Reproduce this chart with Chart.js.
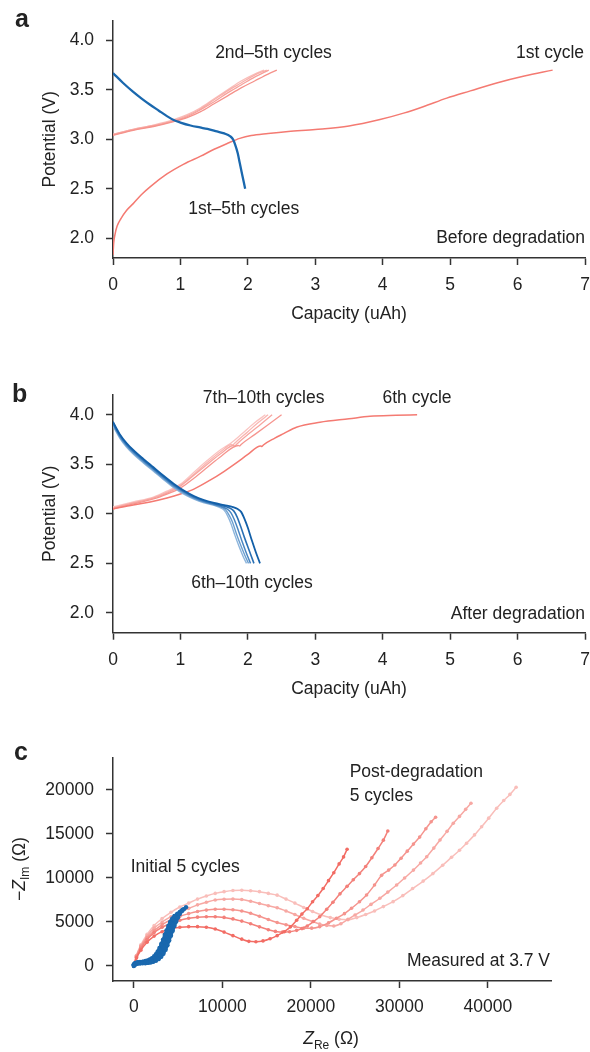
<!DOCTYPE html>
<html><head><meta charset="utf-8">
<script src="https://cdn.jsdelivr.net/npm/chart.js@4.4.1/dist/chart.umd.min.js"></script>
<style>
html,body{margin:0;padding:0;background:#fff;}
body{width:590px;height:1052px;position:relative;overflow:hidden;}
canvas{position:absolute;left:0;}
</style></head><body>
<canvas id="ca" width="590" height="330" style="top:0px"></canvas>
<canvas id="cb" width="590" height="375" style="top:330px"></canvas>
<canvas id="cc" width="590" height="347" style="top:705px"></canvas>
<script>
// ---------- tick values / labels ----------
const capacityTicks = [0, 1, 2, 3, 4, 5, 6, 7];
const capacityTickLabels = ['0', '1', '2', '3', '4', '5', '6', '7'];
const potentialTicks = [2.0, 2.5, 3.0, 3.5, 4.0];
const potentialTickLabels = ['2.0', '2.5', '3.0', '3.5', '4.0'];
const zReTicks = [0, 10000, 20000, 30000, 40000];
const zReTickLabels = ['0', '10000', '20000', '30000', '40000'];
const zImTicks = [0, 5000, 10000, 15000, 20000];
const zImTickLabels = ['0', '5000', '10000', '15000', '20000'];

// ---------- panel a: before degradation (capacity uAh, potential V) ----------
const aCharge1st = [[0,1.83],[0.01,1.95],[0.03,2.04],[0.06,2.12],[0.12,2.2],[0.2,2.28],[0.3,2.35],[0.42,2.44],[0.55,2.52],[0.8,2.65],[1.05,2.75],[1.3,2.83],[1.5,2.9],[1.7,2.96],[1.88,3.01],[2.05,3.04],[2.3,3.06],[2.6,3.08],[3.0,3.1],[3.5,3.135],[3.96,3.2],[4.31,3.265],[4.6,3.33],[4.95,3.417],[5.3,3.49],[5.69,3.57],[6.1,3.64],[6.52,3.70]];
const aCharge2nd = [[0,3.04],[0.3,3.09],[0.6,3.13],[0.9,3.18],[1.1,3.22],[1.3,3.28],[1.5,3.36],[1.7,3.44],[1.9,3.52],[2.1,3.59],[2.3,3.66],[2.43,3.70]];
const aCharge3rd = [[0,3.045],[0.3,3.095],[0.6,3.135],[0.9,3.185],[1.1,3.23],[1.3,3.3],[1.5,3.38],[1.7,3.47],[1.9,3.55],[2.1,3.63],[2.31,3.70]];
const aCharge4th = [[0,3.05],[0.3,3.1],[0.6,3.14],[0.9,3.19],[1.1,3.24],[1.3,3.31],[1.5,3.4],[1.7,3.49],[1.9,3.57],[2.1,3.65],[2.28,3.70]];
const aCharge5th = [[0,3.05],[0.3,3.1],[0.6,3.145],[0.9,3.2],[1.1,3.25],[1.3,3.32],[1.5,3.41],[1.7,3.5],[1.9,3.59],[2.1,3.66],[2.24,3.70]];
const aDischarge1to5 = [[0,3.67],[0.15,3.57],[0.3,3.48],[0.42,3.415],[0.55,3.35],[0.68,3.29],[0.8,3.235],[0.9,3.195],[1.0,3.17],[1.15,3.14],[1.29,3.12],[1.4,3.105],[1.54,3.08],[1.65,3.06],[1.74,3.03],[1.78,3.0],[1.81,2.95],[1.85,2.86],[1.88,2.76],[1.92,2.63],[1.96,2.50]];

// ---------- panel b: after degradation ----------
const bCharge6th = [[0,3.05],[0.3,3.09],[0.55,3.12],[0.8,3.16],[1.0,3.2],[1.2,3.25],[1.44,3.34],[1.65,3.43],[1.84,3.52],[2.0,3.6],[2.19,3.685],[2.21,3.68],[2.23,3.695],[2.4,3.765],[2.53,3.81],[2.72,3.875],[3.07,3.925],[3.5,3.96],[3.81,3.985],[4.2,3.995],[4.51,4.0]];
const bCharge7th = [[0,3.05],[0.3,3.1],[0.6,3.15],[0.8,3.2],[1.0,3.26],[1.2,3.36],[1.4,3.47],[1.6,3.58],[1.86,3.69],[1.88,3.685],[1.9,3.70],[2.1,3.8],[2.3,3.9],[2.5,4.0]];
const bCharge8th = [[0,3.06],[0.3,3.11],[0.6,3.16],[0.8,3.21],[1.0,3.28],[1.2,3.39],[1.4,3.5],[1.6,3.61],[1.79,3.69],[1.81,3.685],[1.83,3.7],[2.0,3.8],[2.2,3.91],[2.36,4.0]];
const bCharge9th = [[0,3.06],[0.3,3.11],[0.6,3.165],[0.8,3.22],[1.0,3.29],[1.2,3.4],[1.4,3.52],[1.6,3.63],[1.76,3.7],[1.78,3.695],[1.8,3.71],[2.0,3.83],[2.15,3.92],[2.3,4.0]];
const bCharge10th = [[0,3.07],[0.3,3.12],[0.6,3.17],[0.8,3.23],[1.0,3.3],[1.2,3.42],[1.4,3.54],[1.6,3.65],[1.74,3.71],[1.9,3.8],[2.1,3.92],[2.26,4.0]];
const bDischarge6th = [[0,3.93],[0.05,3.865],[0.1,3.805],[0.2,3.715],[0.3,3.645],[0.45,3.555],[0.6,3.47],[0.75,3.385],[0.9,3.305],[1.05,3.235],[1.2,3.18],[1.35,3.14],[1.5,3.11],[1.65,3.088],[1.78,3.068],[1.85,3.048],[1.9,3.02],[1.95,2.95],[2.0,2.86],[2.06,2.73],[2.12,2.61],[2.18,2.5]];
const bDischarge7th = [[0,3.92],[0.05,3.855],[0.1,3.795],[0.2,3.705],[0.3,3.635],[0.45,3.545],[0.6,3.46],[0.75,3.375],[0.9,3.295],[1.05,3.228],[1.2,3.173],[1.35,3.133],[1.5,3.103],[1.62,3.082],[1.72,3.062],[1.79,3.03],[1.84,2.97],[1.89,2.88],[1.95,2.76],[2.02,2.63],[2.09,2.5]];
const bDischarge8th = [[0,3.91],[0.05,3.845],[0.1,3.785],[0.2,3.695],[0.3,3.625],[0.45,3.535],[0.6,3.45],[0.75,3.365],[0.9,3.285],[1.05,3.22],[1.2,3.165],[1.35,3.125],[1.5,3.095],[1.6,3.075],[1.69,3.05],[1.75,3.01],[1.8,2.94],[1.86,2.83],[1.92,2.71],[1.98,2.6],[2.04,2.5]];
const bDischarge9th = [[0,3.9],[0.05,3.835],[0.1,3.775],[0.2,3.685],[0.3,3.615],[0.45,3.525],[0.6,3.44],[0.75,3.355],[0.9,3.275],[1.05,3.21],[1.2,3.157],[1.35,3.118],[1.5,3.09],[1.6,3.07],[1.67,3.04],[1.72,2.99],[1.77,2.92],[1.83,2.8],[1.89,2.69],[1.95,2.59],[2.01,2.5]];
const bDischarge10th = [[0,3.89],[0.05,3.825],[0.1,3.765],[0.2,3.675],[0.3,3.605],[0.45,3.515],[0.6,3.43],[0.75,3.345],[0.9,3.265],[1.05,3.2],[1.2,3.15],[1.35,3.112],[1.5,3.085],[1.58,3.065],[1.65,3.035],[1.7,2.98],[1.75,2.9],[1.81,2.78],[1.87,2.67],[1.93,2.57],[1.98,2.5]];

// ---------- panel c: Nyquist (Z_Re, -Z_Im) in ohm ----------
const cInitial1 = [[0,0],[150,150],[400,250],[700,290],[1000,300],[1300,320],[1600,350],[1900,400],[2200,480],[2500,600],[2800,780],[3100,1050],[3350,1400],[3600,1850],[3800,2350],[4000,2900],[4200,3450],[4400,4000],[4600,4550],[4800,5050],[5000,5500],[5200,5900],[5450,6250],[5650,6450],[5900,6670]];
const cInitial2 = [[0,50],[150,200],[400,300],[700,330],[1000,350],[1300,380],[1600,420],[1900,480],[2200,580],[2450,720],[2700,900],[2950,1180],[3200,1550],[3450,2000],[3650,2500],[3850,3050],[4050,3600],[4250,4150],[4450,4700],[4650,5150],[4850,5550],[5050,5900],[5300,6200],[5500,6400]];
const cInitial3 = [[0,100],[150,250],[400,340],[700,380],[1000,400],[1300,440],[1600,490],[1900,560],[2150,680],[2400,840],[2650,1050],[2900,1350],[3100,1700],[3300,2150],[3500,2650],[3700,3200],[3900,3750],[4100,4300],[4300,4800],[4500,5250],[4700,5650],[4950,5950],[5200,6150]];
const cInitial4 = [[0,150],[150,300],[400,380],[700,420],[1000,450],[1300,500],[1600,560],[1850,650],[2100,790],[2350,970],[2600,1200],[2800,1500],[3000,1900],[3200,2350],[3400,2850],[3600,3400],[3800,3950],[4000,4450],[4200,4900],[4400,5300],[4650,5650],[4900,5900]];
const cInitial5 = [[0,200],[150,350],[400,420],[700,470],[1000,500],[1300,560],[1550,640],[1800,750],[2050,900],[2300,1100],[2500,1350],[2700,1650],[2900,2050],[3100,2500],[3300,3000],[3500,3550],[3700,4050],[3900,4550],[4100,5000],[4350,5400],[4600,5700]];
const cPost1 = [[0,0],[300,900],[800,1800],[1500,2700],[2300,3400],[3200,3900],[4200,4250],[5200,4400],[6200,4470],[7200,4470],[8200,4400],[9200,4200],[10200,3850],[11200,3450],[12200,3050],[13000,2800],[13800,2760],[14600,2850],[15400,3100],[16200,3450],[17000,3900],[17700,4450],[18400,5200],[19000,5900],[19600,6500],[20200,7300],[20800,8000],[21400,8800],[22000,9700],[22600,10600],[23200,11600],[23700,12400],[24100,13260]];
const cPost2 = [[0,0],[300,1000],[800,2000],[1500,3000],[2300,3800],[3200,4400],[4200,4850],[5200,5200],[6200,5420],[7200,5550],[8200,5600],[9200,5600],[10200,5520],[11200,5350],[12200,5100],[13200,4800],[14200,4450],[15200,4120],[16000,3930],[16800,3850],[17600,3900],[18400,4050],[19000,4250],[19600,4550],[20300,5050],[21000,5600],[21800,6450],[22500,7250],[23300,8200],[24100,9050],[24800,9800],[25500,10500],[26200,11300],[26900,12300],[27600,13350],[28200,14300],[28700,15340]];
const cPost3 = [[0,0],[300,1100],[800,2200],[1500,3200],[2300,4000],[3200,4700],[4200,5250],[5200,5650],[6200,5950],[7200,6200],[8200,6350],[9200,6440],[10200,6450],[11200,6400],[12200,6250],[13200,6000],[14200,5650],[15200,5280],[16200,4950],[17200,4680],[18200,4480],[19200,4300],[20100,4300],[21000,4470],[22000,4900],[22900,5420],[23800,5950],[24600,6560],[25500,7300],[26300,8070],[27200,9200],[28000,10300],[28800,10900],[29500,11480],[30200,12250],[30900,13050],[31600,13850],[32300,14650],[33000,15600],[33600,16400],[34100,16900]];
const cPost4 = [[0,0],[300,1150],[800,2300],[1500,3400],[2300,4300],[3200,5000],[4200,5600],[5200,6100],[6200,6550],[7200,6950],[8200,7250],[9200,7500],[10200,7580],[11200,7600],[12200,7550],[13200,7350],[14200,7100],[15200,6850],[16200,6620],[17200,6250],[18200,5850],[19200,5420],[20200,5050],[21000,4780],[21800,4600],[22600,4550],[23400,4800],[24200,5300],[25000,5800],[25900,6360],[26800,7000],[27800,7700],[28700,8400],[29700,9200],[30600,10000],[31600,10900],[32400,11700],[33100,12420],[33900,13400],[34600,14320],[35400,15300],[36100,16220],[36800,17000],[37500,17800],[38100,18490]];
const cPost5 = [[0,0],[300,1200],[800,2400],[1500,3600],[2300,4600],[3200,5400],[4200,6100],[5200,6700],[6200,7150],[7200,7600],[8200,7950],[9200,8250],[10200,8450],[11200,8580],[12200,8600],[13200,8550],[14200,8450],[15200,8250],[16200,8050],[17200,7600],[18200,7150],[19200,6650],[20200,6200],[21200,5800],[22200,5500],[23200,5300],[24200,5250],[25200,5500],[26200,5850],[27200,6250],[28200,6750],[29300,7310],[30400,8000],[31500,8800],[32700,9650],[33800,10500],[34900,11450],[35900,12350],[36800,13150],[37600,13940],[38500,14900],[39300,15830],[40100,16800],[41000,17920],[41800,18800],[42500,19500],[43200,20310]];

// ---------- helpers ----------
const FONT = '"Liberation Sans", Arial, Helvetica, sans-serif';
const FS = 17.5;
Chart.defaults.font.family = FONT;
Chart.defaults.font.size = FS;
Chart.defaults.color = '#222';
Chart.defaults.animation = false;

const toXY = arr => arr.map(p => ({x: p[0], y: p[1]}));
function ds(arr, color, width, radius) {
  return {data: toXY(arr), borderColor: color, backgroundColor: color, borderWidth: width,
    pointRadius: radius || 0, pointHoverRadius: radius || 0, pointBorderWidth: 0,
    pointBackgroundColor: color, fill: false, cubicInterpolationMode: 'monotone'};
}
const AXC = '#333';
function scale(opts) {
  return {
    type: 'linear', min: opts.min, max: opts.max,
    grid: {display: true, drawOnChartArea: false, drawTicks: true, tickLength: 7, tickWidth: 1.5, tickColor: AXC},
    border: {display: true, color: AXC, width: 1.5},
    ticks: {padding: opts.pad, color: '#222', font: {size: FS}, autoSkip: false, maxRotation: 0,
      callback: (v, i) => opts.labels[i]},
    afterBuildTicks: sc => { sc.ticks = opts.ticks.map(v => ({value: v})); },
    afterFit: sc => {
      if (opts.width !== undefined) sc.width = opts.width;
      if (opts.height !== undefined) sc.height = opts.height;
      sc.paddingLeft = 0; sc.paddingRight = 0; sc.paddingTop = 0; sc.paddingBottom = 0;
    },
    title: opts.title ? {display: true, text: opts.title, color: '#222', font: {size: FS}, padding: opts.titlePad} : {display: false}
  };
}
const annot = {
  id: 'annot',
  afterDraw(chart, args, o) {
    const ctx = chart.ctx;
    for (const it of (o.items || [])) {
      ctx.save();
      ctx.fillStyle = '#222';
      ctx.textBaseline = 'alphabetic';
      if (it.segments) {
        ctx.translate(it.x, it.y);
        if (it.rotate) ctx.rotate(it.rotate);
        let w = 0;
        for (const s of it.segments) { ctx.font = s.font; w += ctx.measureText(s.text).width; }
        let x = -w / 2;
        ctx.textAlign = 'left';
        for (const s of it.segments) { ctx.font = s.font; ctx.fillText(s.text, x, s.dy || 0); x += ctx.measureText(s.text).width; }
      } else {
        ctx.font = it.font || (FS + 'px ' + FONT);
        ctx.textAlign = it.align || 'left';
        ctx.fillText(it.text, it.x, it.y);
      }
      ctx.restore();
    }
  }
};
const LETTER = 'bold 25px ' + FONT;
const baseOpts = {responsive: false, animation: false, events: [],
  plugins: {legend: {display: false}, tooltip: {enabled: false}}};

// ---------- panel a ----------
new Chart(document.getElementById('ca'), {
  type: 'line',
  data: {datasets: [
    ds(aDischarge1to5, '#1A68AE', 2.3),
    ds(aCharge1st, '#F47A72', 1.5),
    ds(aCharge2nd, '#F5928B', 1.3),
    ds(aCharge3rd, '#F7A29C', 1.3),
    ds(aCharge4th, '#F8B0AB', 1.3),
    ds(aCharge5th, '#F9BEBA', 1.3)
  ]},
  options: Object.assign({}, baseOpts, {
    layout: {padding: {top: 20.7, right: 5, bottom: 0, left: 0}},
    scales: {
      x: scale({min: 0, max: 7, ticks: capacityTicks, labels: capacityTickLabels, pad: 9.5, height: 72, title: 'Capacity (uAh)', titlePad: {top: 0, bottom: 5}}),
      y: scale({min: 1.8, max: 4.2, ticks: potentialTicks, labels: potentialTickLabels, pad: 12, width: 113, title: 'Potential (V)', titlePad: {top: 39.5, bottom: 0}})
    },
    plugins: Object.assign({}, baseOpts.plugins, {annot: {items: [
      {text: 'a', x: 15, y: 26.7, font: LETTER},
      {text: '2nd\u20135th cycles', x: 273.5, y: 58, align: 'center'},
      {text: '1st cycle', x: 584, y: 58, align: 'right'},
      {text: '1st\u20135th cycles', x: 243.7, y: 214.3, align: 'center'},
      {text: 'Before degradation', x: 585, y: 242.5, align: 'right'}
    ]}})
  }),
  plugins: [annot]
});

// ---------- panel b ----------
new Chart(document.getElementById('cb'), {
  type: 'line',
  data: {datasets: [
    ds(bDischarge6th, '#125FA8', 1.8),
    ds(bDischarge7th, '#2A70B4', 1.6),
    ds(bDischarge8th, '#4A86C1', 1.5),
    ds(bDischarge9th, '#6C9FCF', 1.4),
    ds(bDischarge10th, '#8DB5DC', 1.4),
    ds(bCharge6th, '#F47A72', 1.5),
    ds(bCharge7th, '#F6958F', 1.3),
    ds(bCharge8th, '#F7A6A1', 1.3),
    ds(bCharge9th, '#F9B6B2', 1.3),
    ds(bCharge10th, '#FAC4C1', 1.3)
  ]},
  options: Object.assign({}, baseOpts, {
    layout: {padding: {top: 65, right: 5, bottom: 0, left: 0}},
    scales: {
      x: scale({min: 0, max: 7, ticks: capacityTicks, labels: capacityTickLabels, pad: 9.5, height: 72.3, title: 'Capacity (uAh)', titlePad: {top: 0, bottom: 5.5}}),
      y: scale({min: 1.8, max: 4.2, ticks: potentialTicks, labels: potentialTickLabels, pad: 12, width: 113, title: 'Potential (V)', titlePad: {top: 39.5, bottom: 0}})
    },
    plugins: Object.assign({}, baseOpts.plugins, {annot: {items: [
      {text: 'b', x: 12, y: 71.7, font: LETTER},
      {text: '7th\u201310th cycles', x: 263.6, y: 73.3, align: 'center'},
      {text: '6th cycle', x: 417, y: 73.3, align: 'center'},
      {text: '6th\u201310th cycles', x: 252, y: 258.3, align: 'center'},
      {text: 'After degradation', x: 585, y: 289.3, align: 'right'}
    ]}})
  }),
  plugins: [annot]
});

// ---------- panel c ----------
const SUB = '12px ' + FONT, REG = FS + 'px ' + FONT, ITA = 'italic ' + FS + 'px ' + FONT;
new Chart(document.getElementById('cc'), {
  type: 'line',
  data: {datasets: [
    ds(cInitial1, '#1A68AE', 3, 2.2),
    ds(cInitial2, '#1A68AE', 3, 2.2),
    ds(cInitial3, '#1A68AE', 3, 2.2),
    ds(cInitial4, '#1A68AE', 3, 2.2),
    ds(cInitial5, '#1A68AE', 3, 2.2),
    ds(cPost1, '#F26C64', 1.5, 1.8),
    ds(cPost2, '#F3807A', 1.5, 1.8),
    ds(cPost3, '#F5948E', 1.5, 1.8),
    ds(cPost4, '#F7A8A3', 1.5, 1.8),
    ds(cPost5, '#F9BEBA', 1.5, 1.8)
  ]},
  options: Object.assign({}, baseOpts, {
    layout: {padding: {top: 52.7, right: 39, bottom: 0, left: 0}},
    scales: {
      x: scale({min: -2350, max: 47140, ticks: zReTicks, labels: zReTickLabels, pad: 8.5, height: 71}),
      y: scale({min: -1705, max: 23670, ticks: zImTicks, labels: zImTickLabels, pad: 12, width: 113})
    },
    plugins: Object.assign({}, baseOpts.plugins, {annot: {items: [
      {text: 'c', x: 14, y: 55, font: LETTER},
      {text: 'Post-degradation', x: 349.7, y: 72.3, align: 'left'},
      {text: '5 cycles', x: 349.7, y: 95.7, align: 'left'},
      {text: 'Initial 5 cycles', x: 130.7, y: 166.7, align: 'left'},
      {text: 'Measured at 3.7 V', x: 550, y: 261, align: 'right'},
      {x: 331, y: 339.2, segments: [
        {text: 'Z', font: ITA}, {text: 'Re', font: SUB, dy: 4.5}, {text: ' (\u03A9)', font: REG}]},
      {x: 24.5, y: 164, rotate: -Math.PI / 2, segments: [
        {text: '\u2212', font: REG}, {text: 'Z', font: ITA}, {text: 'Im', font: SUB, dy: 4.5}, {text: ' (\u03A9)', font: REG}]}
    ]}})
  }),
  plugins: [annot]
});
</script>
</body></html>
